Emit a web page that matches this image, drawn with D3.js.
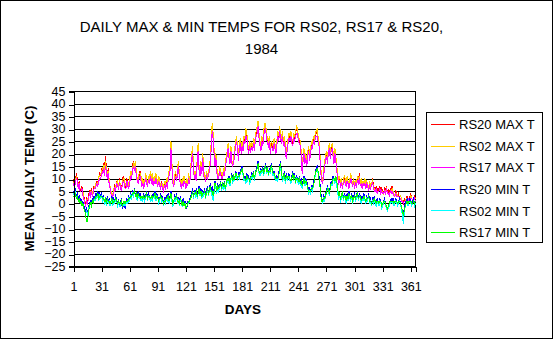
<!DOCTYPE html>
<html>
<head>
<meta charset="utf-8">
<script src="https://cdn.jsdelivr.net/npm/d3@7"></script>
<style>
  html, body { margin: 0; padding: 0; background: #fff; }
  svg { display: block; }
  text { font-family: "Liberation Sans", Arial, sans-serif; fill: #000; }
</style>
</head>
<body>
<svg id="chart" width="553" height="339"></svg>
<script>
// Daily maximum and minimum temperatures (deg C), 1984 (366 days)
const titleLines = ["DAILY MAX & MIN TEMPS FOR RS02, RS17 & RS20,", "1984"];
const yTickValues = [-25, -20, -15, -10, -5, 0, 5, 10, 15, 20, 25, 30, 35, 40, 45];
const xTickValues = [1, 31, 61, 91, 121, 151, 181, 211, 241, 271, 301, 331, 361];
const seriesNames = ["RS20 MAX T", "RS02 MAX T", "RS17 MAX T", "RS20 MIN T", "RS02 MIN T", "RS17 MIN T"];

const rs20Max = [
  8,11,9,12,10,7,9,6,5,7,
  4,3,1,0,2,1,3,5,4,6,
  3,5,7,6,8,9,7,10,12,11,
  14,13,16,12,19,15,11,14,9,6,
  4,2,3,5,7,6,9,8,6,10,
  7,5,8,11,9,6,7,10,8,6,
  9,12,11,15,17,14,16,12,9,8,
  11,13,10,7,9,6,8,11,9,7,
  10,8,12,9,11,7,10,8,11,9,
  7,10,8,6,9,7,5,8,6,9,
  7,10,12,14,25,16,9,7,10,12,
  9,13,16,11,8,6,9,7,10,8,
  6,9,7,11,8,13,18,22,15,10,
  12,9,17,23,14,11,16,13,19,12,
  10,9,12,10,11,14,17,24,31,27,
  21,16,19,13,11,10,14,12,11,10,
  13,11,15,18,20,23,19,17,22,16,
  15,17,21,24,26,22,18,23,25,21,
  24,22,26,25,29,27,23,21,24,22,
  23,21,25,22,26,28,30,33,27,24,
  22,26,24,28,31,32,27,25,24,26,
  21,24,23,22,25,23,21,24,28,26,
  31,27,25,28,24,26,23,19,22,25,
  27,26,28,25,24,27,26,28,30,29,
  27,25,24,20,13,18,21,17,19,16,
  20,22,18,21,24,23,26,25,27,28,
  29,26,24,19,13,10,8,12,16,18,
  20,17,21,23,19,22,24,20,17,21,
  18,14,11,8,10,7,9,6,8,10,
  9,7,10,8,6,9,11,8,7,9,
  6,8,7,10,8,12,7,9,6,8,
  7,9,6,8,7,5,8,6,7,10,
  8,6,5,7,4,6,5,7,4,6,
  5,4,6,5,7,4,5,3,6,5,
  7,5,4,3,5,4,3,4,2,3,
  2,1,0,2,1,2,3,2,1,3,
  4,2,1,2,3,2
];

const rs02Max = [
  7,10,9,11,9,8,8,6,6,6,
  5,2,1,1,1,2,2,4,5,5,
  4,5,6,7,8,8,8,11,11,12,
  13,14,15,13,17,14,12,13,10,7,
  5,3,4,6,6,7,8,9,7,9,
  8,6,7,10,10,7,8,9,9,7,
  10,13,12,14,16,15,17,13,10,9,
  12,12,11,8,10,7,9,12,10,8,
  11,9,13,10,12,8,11,9,12,10,
  8,11,9,7,8,8,6,9,7,10,
  8,11,13,15,25,17,10,8,11,13,
  10,14,17,12,9,7,10,8,11,9,
  7,10,8,12,9,14,19,23,16,11,
  13,10,18,24,15,12,17,14,20,13,
  11,10,13,11,12,15,18,25,32,28,
  22,17,20,14,12,11,15,13,12,11,
  14,12,16,19,21,24,20,18,23,17,
  16,18,22,25,27,23,19,24,26,22,
  25,23,27,26,30,28,24,22,25,23,
  24,22,26,23,27,29,31,33,28,25,
  23,27,25,29,32,32,28,26,25,27,
  22,25,24,23,26,24,22,25,29,27,
  31,28,26,29,25,27,24,20,23,26,
  28,27,29,26,25,28,27,29,31,30,
  27,26,25,21,14,19,22,18,20,17,
  21,23,19,22,25,24,27,26,28,29,
  30,27,25,20,14,11,9,13,17,19,
  21,18,22,24,20,23,24,21,18,22,
  19,15,12,9,11,8,10,7,9,11,
  10,8,11,9,7,10,12,9,8,10,
  7,9,8,11,9,11,8,10,7,9,
  8,10,7,9,8,6,9,7,8,9,
  7,6,5,6,4,5,5,6,4,5,
  5,4,5,5,6,4,4,3,5,5,
  6,5,4,3,4,4,3,3,2,3,
  2,1,0,1,1,2,2,2,1,2,
  3,2,1,2,2,2
];

const rs17Max = [
  7,9,8,10,9,6,8,5,5,6,
  3,2,0,-1,1,0,2,4,3,5,
  3,4,6,6,7,8,7,9,10,10,
  12,12,14,11,15,13,10,12,8,6,
  4,2,3,4,6,5,8,7,6,8,
  7,5,7,9,8,6,6,9,7,6,
  8,11,10,13,15,13,15,11,9,8,
  10,11,9,7,8,6,8,10,8,7,
  9,8,11,8,10,7,9,8,10,8,
  7,9,7,6,8,6,5,7,6,8,
  6,9,11,13,22,15,8,7,9,11,
  9,12,15,10,8,6,8,7,9,8,
  6,8,7,10,8,12,17,20,14,10,
  11,9,16,21,13,11,15,12,18,11,
  10,9,11,10,11,13,16,22,29,26,
  20,15,18,12,10,10,13,12,10,10,
  12,11,14,17,19,22,18,16,21,16,
  15,16,20,23,25,22,17,22,24,20,
  23,21,25,24,27,26,22,20,23,21,
  22,21,24,21,25,27,28,31,26,23,
  21,25,23,27,29,30,26,24,23,25,
  20,23,22,21,24,22,20,23,27,25,
  29,26,24,27,23,25,22,18,21,24,
  26,25,27,24,23,26,25,27,28,28,
  25,24,23,19,12,17,20,16,18,15,
  19,21,17,20,23,22,25,24,26,27,
  27,25,23,18,12,9,8,11,15,17,
  19,16,20,22,18,21,22,19,16,20,
  17,13,10,8,9,7,8,6,8,9,
  8,7,9,8,6,8,10,8,7,8,
  6,8,7,9,8,10,7,8,6,8,
  7,8,6,8,7,5,7,6,7,8,
  7,5,5,6,4,5,5,6,4,5,
  4,4,5,4,6,4,4,3,5,4,
  5,4,3,3,4,3,3,3,2,2,
  1,1,0,1,1,1,2,2,1,2,
  2,2,1,1,2,1
];

const rs20Min = [
  5,4,6,3,4,2,3,1,2,0,
  1,-1,-2,-3,-2,-4,-1,0,1,0,
  2,1,3,2,4,3,5,2,4,3,
  4,2,3,1,2,0,3,1,2,0,
  1,3,0,2,1,3,2,0,1,-1,
  0,2,-2,-1,1,-2,0,2,1,3,
  2,4,3,5,4,6,3,4,2,5,
  3,4,2,3,1,4,2,3,5,2,
  4,3,1,3,2,4,3,5,2,4,
  3,1,2,4,2,3,0,2,1,3,
  2,4,1,3,5,2,0,1,3,2,
  4,1,2,0,3,1,-1,2,0,1,
  -1,-2,1,0,2,3,4,6,3,5,
  4,6,3,5,7,4,6,3,5,4,
  6,3,5,7,4,6,8,5,7,4,
  6,9,7,5,8,6,7,9,6,8,
  7,9,6,8,10,9,11,8,10,12,
  9,11,10,13,12,10,12,11,13,14,
  15,12,10,11,9,12,10,11,9,10,
  12,11,13,10,12,14,15,17,13,12,
  14,13,15,12,14,16,13,15,12,14,
  13,16,14,12,13,11,10,11,10,12,
  15,17,12,10,11,13,9,12,10,11,
  12,10,9,11,13,10,12,9,11,10,
  9,11,8,10,7,9,11,8,10,9,
  7,5,6,5,7,6,8,10,12,14,
  15,13,11,8,4,2,1,3,2,4,
  5,7,6,4,7,9,8,11,10,9,
  11,8,5,3,4,2,3,5,2,4,
  3,1,4,2,5,3,2,4,1,3,
  4,2,3,5,2,4,3,1,3,2,
  4,2,1,3,2,4,1,2,0,2,
  1,3,1,0,2,1,0,2,1,-1,
  0,1,2,0,-1,-2,-1,0,1,2,
  1,2,0,1,2,1,0,1,2,0,
  -1,-3,-4,-2,0,1,2,0,1,2,
  1,0,1,2,0,1
];

const rs02Min = [
  4,3,5,2,3,1,2,0,1,-1,
  0,-2,-3,-4,-3,-5,-2,-1,0,-1,
  1,0,2,1,3,2,4,1,3,2,
  3,1,2,0,1,-1,2,0,1,-1,
  0,2,-1,1,0,2,1,-1,0,-1,
  -1,1,-1,-1,0,-1,0,1,0,2,
  1,3,2,4,3,5,3,3,1,4,
  2,3,1,2,1,3,1,2,4,1,
  3,2,1,2,1,3,2,4,1,3,
  2,0,1,3,1,2,-1,1,0,2,
  1,3,0,2,4,1,-1,0,2,1,
  3,0,1,-1,2,0,-1,1,-1,0,
  -1,-1,0,0,1,2,3,5,2,4,
  3,5,2,4,6,3,5,2,4,3,
  5,2,4,6,3,5,6,4,3,1,
  4,7,6,4,7,5,6,8,5,7,
  6,8,5,7,9,8,10,7,9,11,
  8,10,9,12,11,9,11,10,12,13,
  14,11,9,10,8,11,9,10,8,9,
  11,10,12,9,11,13,14,15,12,11,
  13,12,14,11,13,15,12,14,11,13,
  12,15,13,11,12,10,9,10,9,11,
  13,15,11,9,10,12,8,11,9,10,
  11,9,8,10,12,9,11,8,10,9,
  8,10,7,9,6,8,10,7,9,8,
  6,4,5,4,6,5,7,9,11,13,
  14,12,10,7,3,1,0,2,1,3,
  4,6,5,3,6,8,7,10,9,8,
  10,7,4,2,3,1,2,4,1,3,
  2,0,3,1,4,2,1,3,0,2,
  3,1,2,4,1,3,2,0,2,1,
  3,1,0,2,1,3,0,1,-1,1,
  0,2,0,-1,1,0,-1,1,0,-2,
  -1,0,1,-1,-2,-3,-2,-1,0,1,
  0,1,-1,0,1,0,-1,0,1,-1,
  -2,-5,-8,-4,-1,0,1,-1,0,1,
  0,-1,0,1,-1,0
];

const rs17Min = [
  3,2,4,2,3,1,2,0,1,-1,
  0,-2,-3,-5,-7,-7,-4,-1,0,-1,
  1,0,2,2,3,3,4,2,3,3,
  3,2,2,1,2,0,2,1,1,0,
  1,2,0,1,1,2,1,0,1,0,
  0,1,-1,0,1,0,1,1,1,2,
  2,3,3,4,4,5,3,4,2,4,
  3,3,2,3,2,3,2,3,4,2,
  3,3,2,3,2,3,3,4,2,3,
  2,1,2,3,2,2,0,1,1,2,
  2,3,1,2,4,2,0,1,2,2,
  3,1,1,0,2,1,-1,1,-1,0,
  -2,-1,0,1,1,2,3,5,3,4,
  4,5,3,4,6,4,5,3,4,4,
  5,3,4,6,4,5,7,5,5,3,
  5,8,7,5,7,6,7,8,6,8,
  7,8,6,8,10,9,10,8,10,11,
  9,11,10,12,12,10,11,11,12,13,
  14,12,10,10,9,11,10,10,9,10,
  11,11,12,10,12,13,14,16,13,12,
  13,13,14,12,14,15,13,14,12,13,
  13,15,14,12,12,11,10,10,10,11,
  14,16,12,10,11,12,9,11,10,11,
  11,10,9,10,12,10,11,9,10,10,
  9,10,8,9,7,8,10,8,9,8,
  6,5,5,5,6,6,7,9,12,13,
  14,13,10,7,3,1,1,2,2,3,
  5,6,6,4,6,8,8,10,10,9,
  11,9,6,3,4,2,3,5,2,3,
  3,1,3,2,4,3,2,3,1,2,
  3,2,3,4,2,3,3,1,2,2,
  3,2,1,2,2,3,1,1,0,1,
  1,2,1,0,1,1,0,1,1,-1,
  0,1,1,0,-1,-2,-1,0,1,1,
  1,1,0,1,1,1,0,1,1,0,
  -1,-3,-5,-3,-1,0,1,0,1,1,
  1,0,0,1,0,1
];

const days = d3.range(1, rs20Max.length + 1);
const seriesValues = [rs20Max, rs02Max, rs17Max, rs20Min, rs02Min, rs17Min];
const seriesColors = ["#ff0000", "#ffcc00", "#ff00ff", "#0000ff", "#00ffff", "#00ff00"];

const W = 553, H = 339;
const plot = { left: 73.5, right: 415.5, top: 91, bottom: 266 };

const svg = d3.select("#chart");

svg.append("rect")
  .attr("x", 0).attr("y", 0).attr("width", W).attr("height", H)
  .attr("fill", "#fff");

const x = d3.scaleLinear().domain([1, 366]).range([plot.left, plot.right]);
const y = d3.scaleLinear().domain([-25, 45]).range([plot.bottom, plot.top]);

// Horizontal gridlines
svg.append("g")
  .selectAll("line")
  .data(yTickValues)
  .join("line")
  .attr("x1", plot.left).attr("x2", plot.right)
  .attr("y1", d => Math.round(y(d)) + 0.5)
  .attr("y2", d => Math.round(y(d)) + 0.5)
  .attr("stroke", "#000").attr("stroke-width", 1)
  .attr("shape-rendering", "crispEdges");

// Right edge of plot area
svg.append("line")
  .attr("x1", plot.right).attr("x2", plot.right)
  .attr("y1", Math.round(y(45)) + 0.5).attr("y2", Math.round(y(-25)) + 0.5)
  .attr("stroke", "#000").attr("shape-rendering", "crispEdges");

// Data lines, drawn in legend order so later series sit on top
const line = d3.line()
  .x((d, i) => x(days[i]))
  .y(d => y(d));

svg.append("g")
  .selectAll("path")
  .data(seriesValues)
  .join("path")
  .attr("d", d => line(d))
  .attr("fill", "none")
  .attr("stroke", (d, i) => seriesColors[i])
  .attr("stroke-width", 1)
  .attr("stroke-linejoin", "miter")
  .attr("shape-rendering", "crispEdges");

// Y axis
const yAxis = d3.axisLeft(y)
  .tickValues(yTickValues)
  .tickSize(5)
  .tickPadding(3)
  .tickFormat(d3.format("d"));
const gy = svg.append("g")
  .attr("transform", `translate(${plot.left},0)`)
  .call(yAxis);
gy.select(".domain").attr("stroke", "#000").attr("shape-rendering", "crispEdges");
gy.selectAll(".tick line").attr("stroke", "#000").attr("shape-rendering", "crispEdges")
  .attr("transform", d => `translate(0,${Math.round(y(d)) + 0.5 - y(d)})`);
gy.selectAll(".tick text")
  .style("font-family", '"Liberation Sans", Arial, sans-serif')
  .style("font-size", "12.5px")
  .attr("fill", "#000");

// X axis along the bottom of the plot
const xAxis = d3.axisBottom(x)
  .tickValues(xTickValues)
  .tickSize(5)
  .tickPadding(11)
  .tickFormat(d3.format("d"));
const gx = svg.append("g")
  .attr("transform", `translate(0,${Math.round(plot.bottom) + 0.5})`)
  .call(xAxis);
gx.select(".domain").attr("stroke", "#000").attr("shape-rendering", "crispEdges");
gx.selectAll(".tick line").attr("stroke", "#000").attr("shape-rendering", "crispEdges");
gx.selectAll(".tick text")
  .style("font-family", '"Liberation Sans", Arial, sans-serif')
  .style("font-size", "12.5px")
  .attr("fill", "#000");

// Title
svg.append("text")
  .attr("x", 261.5).attr("y", 31.5)
  .attr("text-anchor", "middle")
  .style("font-size", "15px")
  .text(titleLines[0]);
svg.append("text")
  .attr("x", 261.5).attr("y", 53.5)
  .attr("text-anchor", "middle")
  .style("font-size", "15px")
  .text(titleLines[1]);

// Axis titles
svg.append("text")
  .attr("transform", `translate(33.5,${(plot.top + plot.bottom) / 2}) rotate(-90)`)
  .attr("text-anchor", "middle")
  .style("font-size", "13.5px")
  .style("font-weight", "bold")
  .text("MEAN DAILY TEMP (C)");

svg.append("text")
  .attr("x", 243).attr("y", 313.5)
  .attr("text-anchor", "middle")
  .style("font-size", "13.5px")
  .style("font-weight", "bold")
  .text("DAYS");

// Legend
const legend = svg.append("g");
legend.append("rect")
  .attr("x", 426.5).attr("y", 112.5).attr("width", 116).attr("height", 130)
  .attr("fill", "#fff").attr("stroke", "#000")
  .attr("shape-rendering", "crispEdges");
const rows = legend.selectAll("g.row")
  .data(seriesNames)
  .join("g")
  .attr("class", "row")
  .attr("transform", (d, i) => `translate(0,${124.5 + i * 21.6})`);
rows.append("line")
  .attr("x1", 431).attr("x2", 455)
  .attr("y1", 0).attr("y2", 0)
  .attr("stroke", (d, i) => seriesColors[i])
  .attr("shape-rendering", "crispEdges");
rows.append("text")
  .attr("x", 459).attr("y", 4.6)
  .style("font-size", "13px")
  .text(d => d);

// Outer border
svg.append("rect")
  .attr("x", 0.5).attr("y", 0.5).attr("width", W - 1).attr("height", H - 1)
  .attr("fill", "none").attr("stroke", "#000")
  .attr("shape-rendering", "crispEdges");
</script>
</body>
</html>
